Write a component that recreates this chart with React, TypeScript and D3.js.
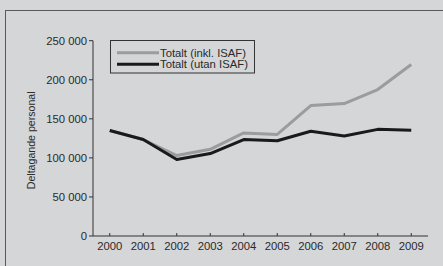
import React from "react";
import * as d3 from "d3";

const years = ["2000","2001","2002","2003","2004","2005","2006","2007","2008","2009"];
const inklISAF = [135000,123500,103000,111000,132000,130000,167000,169500,187500,219500];
const utanISAF = [135000,123500,98000,105500,123500,122000,134000,128000,136500,135500];
const yTicks = [0,50000,100000,150000,200000,250000];
const seriesNames = ["Totalt (inkl. ISAF)", "Totalt (utan ISAF)"];
const yLabel = "Deltagande personal";

const W = 443, H = 266;
const left = 93, right = 428, top = 40.7, bottom = 236;
const font = "'Liberation Sans', Arial, sans-serif";

export default function App() {
  const x = d3.scaleBand<string>().domain(years).range([left, right]).padding(0);
  const cx = (d: string) => (x(d) as number) + x.bandwidth() / 2;
  const y = d3.scaleLinear().domain([0, 250000]).range([bottom, top]);
  const line = d3.line<number>().x((_, i) => cx(years[i])).y(v => y(v));
  const fmt = (v: number) => v === 0 ? "0" : d3.format(",")(v).replace(/,/g, " ");
  return (
    <svg width={W} height={H} style={{ position: "fixed", left: 0, top: 0, background: "#d5d6d8" }}>
      <rect x={0} y={0} width={W} height={H} fill="#d5d6d8" />
      <rect x={5.5} y={10.5} width={W} height={H} fill="none" stroke="#58595b" strokeWidth={1} />
      {/* y axis */}
      <line x1={left} x2={left} y1={top} y2={bottom} stroke="#333" strokeWidth={1} />
      {yTicks.map(t => (
        <g key={t}>
          <line x1={left - 4} x2={left} y1={y(t)} y2={y(t)} stroke="#333" />
          <text x={left - 6} y={y(t)} dy="0.35em" textAnchor="end" fontFamily={font} fontSize={11.3} fill="#2a2a2a">{fmt(t)}</text>
        </g>
      ))}
      {/* x axis */}
      <line x1={left} x2={right} y1={bottom} y2={bottom} stroke="#333" strokeWidth={1} />
      {years.map(yr => (
        <g key={yr}>
          <line x1={cx(yr)} x2={cx(yr)} y1={bottom} y2={bottom - 3} stroke="#333" />
          <text x={cx(yr)} y={bottom + 14} textAnchor="middle" fontFamily={font} fontSize={11.3} fill="#2a2a2a">{yr}</text>
        </g>
      ))}
      <text transform={`translate(31,${(top + bottom) / 2 + 2}) rotate(-90)`} textAnchor="middle" dy="0.35em" fontFamily={font} fontSize={10.6} fill="#2a2a2a">{yLabel}</text>
      {/* lines */}
      <path d={line(inklISAF) || ""} fill="none" stroke="#9b9c9e" strokeWidth={3} strokeLinejoin="round" />
      <path d={line(utanISAF) || ""} fill="none" stroke="#1b1a1a" strokeWidth={3} strokeLinejoin="round" />
      {/* legend */}
      <rect x={110.5} y={40.5} width={144} height={32.5} fill="none" stroke="#333" strokeWidth={1} />
      <line x1={117} x2={159} y1={52.7} y2={52.7} stroke="#9b9c9e" strokeWidth={3} />
      <line x1={117} x2={159} y1={64.3} y2={64.3} stroke="#1b1a1a" strokeWidth={3} />
      <text x={160} y={52.7} dy="0.35em" fontFamily={font} fontSize={11.3} fill="#2a2a2a">{seriesNames[0]}</text>
      <text x={160} y={64.3} dy="0.35em" fontFamily={font} fontSize={11.3} fill="#2a2a2a">{seriesNames[1]}</text>
    </svg>
  );
}
